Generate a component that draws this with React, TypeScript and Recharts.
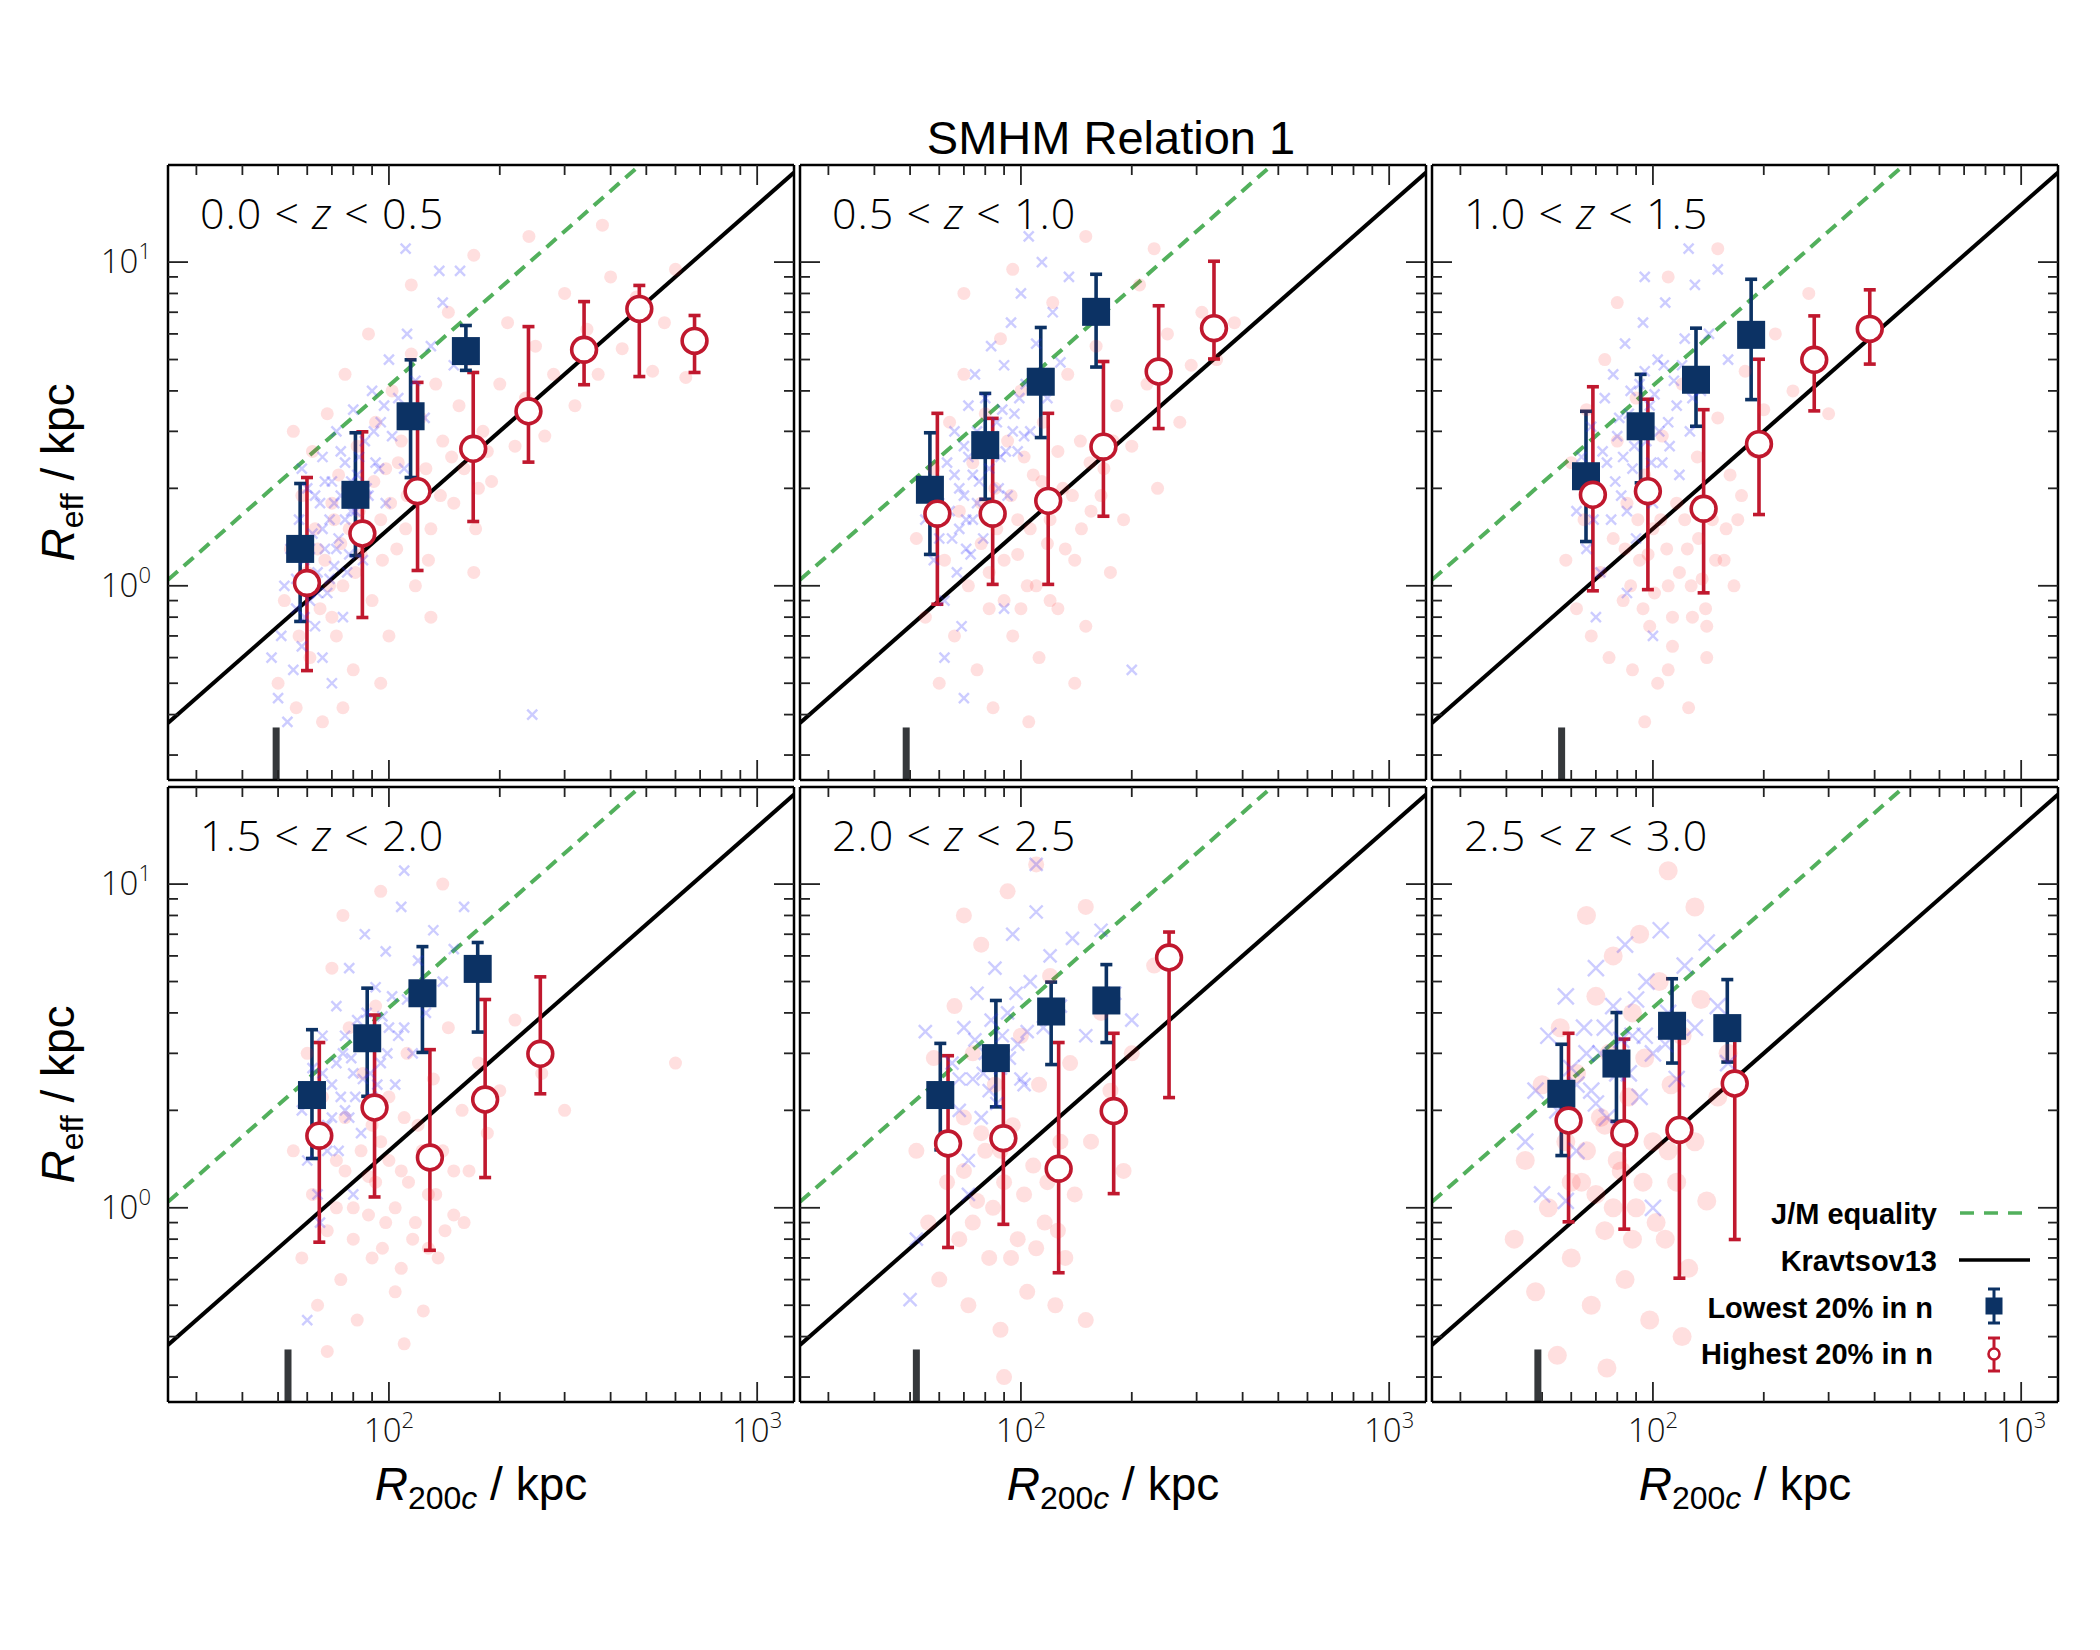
import React from 'react'
import { ComposedChart, Scatter, Line, XAxis, YAxis, ErrorBar, ReferenceLine } from 'recharts'

const NAVY = '#0c3264'
const CRIMSON = '#c0182e'
const GREEN = '#52b05c'
const LIGHT = "'Open Sans', 'Noto Sans', sans-serif"
const SANS = "'Liberation Sans', Arial, sans-serif"
const NARROW = "'Liberation Sans Narrow', 'Liberation Sans', Arial, sans-serif"

// axis ranges (log10: 1.4 .. 3.1 and -0.6 .. 1.3)
const X_MIN = 25.12
const X_MAX = 1259
const Y_MIN = 0.2512
const Y_MAX = 19.95

const xTicks = [30, 40, 50, 60, 70, 80, 90, 100, 200, 300, 400, 500, 600, 700, 800, 900, 1000]
const yTicks = [0.3, 0.4, 0.5, 0.6, 0.7, 0.8, 0.9, 1, 2, 3, 4, 5, 6, 7, 8, 9, 10]

const zLow = ['0.0', '0.5', '1.0', '1.5', '2.0', '2.5']
const zHigh = ['0.5', '1.0', '1.5', '2.0', '2.5', '3.0']

// reference relations, read at the panel edges
const kravX = [25.12, 1259]
const kravY = [0.377, 18.9]
const jmX = [25.12, 480]
const jmY = [1.043, 19.92]

// resolution marker at the bottom of each panel
const resX = [49.4, 48.8, 56.5, 53.2, 52.0, 48.7]
const resTop = 0.365

// Lowest 20% in n (binned medians with error bars)
const lowX = [
  [57.4, 81.1, 114.5, 161.8],
  [56.6, 80.0, 113.2, 160.0],
  [65.8, 92.6, 130.9, 184.8],
  [61.8, 87.3, 123.3, 174.2],
  [60.4, 85.5, 120.8, 170.6],
  [56.4, 79.6, 112.7, 159.2],
]
const lowY = [
  [1.30, 1.91, 3.34, 5.31],
  [1.98, 2.72, 4.27, 7.02],
  [2.18, 3.11, 4.33, 5.96],
  [2.23, 3.34, 4.60, 5.47],
  [2.23, 2.90, 4.04, 4.37],
  [2.25, 2.79, 3.65, 3.59],
]
const lowLo = [
  [0.776, 1.24, 2.16, 4.63],
  [1.25, 1.85, 2.87, 4.74],
  [1.37, 2.08, 3.11, 3.76],
  [1.42, 2.21, 3.02, 3.49],
  [1.51, 2.05, 2.77, 3.24],
  [1.45, 1.85, 2.80, 2.82],
]
const lowHi = [
  [2.07, 2.97, 4.99, 6.37],
  [2.97, 3.93, 6.28, 9.17],
  [3.46, 4.50, 6.25, 8.85],
  [3.55, 4.77, 6.41, 6.60],
  [3.22, 4.37, 4.98, 5.64],
  [3.20, 4.01, 5.10, 5.07],
]

// Highest 20% in n
const highX = [
  [59.9, 84.7, 119.6, 169.4, 239.3, 338.8, 478.6, 676],
  [59.3, 83.8, 118.6, 167.5, 236.6, 334.4],
  [68.7, 96.9, 137.3, 194.1, 274.2, 388],
  [64.7, 91.4, 129.2, 182.5, 257.7],
  [63.4, 89.6, 126.6, 178.6, 252.5],
  [59.0, 83.6, 118.0, 166.8],
]
const highY = [
  [1.02, 1.45, 1.96, 2.65, 3.46, 5.36, 7.17, 5.71],
  [1.67, 1.67, 1.83, 2.69, 4.59, 6.25],
  [1.91, 1.96, 1.73, 2.74, 4.99, 6.22],
  [1.67, 2.04, 1.43, 2.16, 2.99],
  [1.58, 1.64, 1.32, 1.99, 5.93],
  [1.86, 1.70, 1.74, 2.42],
]
const highLo = [
  [0.547, 0.798, 1.115, 1.58, 2.41, 4.18, 4.43, 4.56],
  [0.877, 1.01, 1.01, 1.64, 3.06, 5.02],
  [0.965, 0.973, 0.951, 1.66, 3.47, 4.84],
  [0.783, 1.08, 0.739, 1.24, 2.25],
  [0.754, 0.889, 0.63, 1.106, 2.19],
  [0.905, 0.859, 0.606, 0.798],
]
const highHi = [
  [2.16, 2.99, 4.25, 4.56, 6.32, 7.55, 8.47, 6.84],
  [3.41, 3.29, 3.41, 4.93, 7.33, 10.06],
  [4.12, 3.77, 3.50, 5.01, 6.82, 8.21],
  [3.24, 3.94, 3.08, 4.40, 5.17],
  [2.95, 3.06, 3.24, 3.46, 7.11],
  [3.46, 3.32, 3.61, 3.87],
]

// individual galaxies (faint background cloud)
const blueCloud: [number, number][][] = [
  [[50, 0.45], [51, 0.7], [52, 1.0], [53, 0.38], [54, 1.3], [55, 0.55], [56, 0.85], [57, 1.6], [58, 0.65], [59, 1.2],
   [60, 2.0], [61, 0.9], [62, 1.45], [63, 0.75], [64, 1.1], [65, 1.8], [66, 2.5], [67, 1.3], [68, 0.95], [69, 1.6],
   [70, 2.1], [71, 1.15], [72, 3.0], [73, 1.4], [74, 1.9], [75, 0.8], [76, 2.4], [78, 1.25], [79, 1.7], [80, 3.5],
   [82, 2.2], [84, 1.5], [86, 2.8], [88, 1.9], [90, 4.0], [92, 2.4], [95, 3.2], [98, 1.8], [100, 5.0], [102, 2.9],
   [106, 3.8], [110, 2.3], [112, 6.0], [118, 4.3], [125, 3.3], [130, 5.5], [140, 7.5], [150, 4.8], [111, 11], [137, 9.4],
   [156, 9.4], [245, 0.40], [48, 0.6], [58, 2.3], [66, 0.6], [85, 1.2], [70, 0.5],
   [61, 1.3], [63, 1.9], [64, 0.95], [66, 1.5], [67, 2.1], [69, 1.05], [71, 1.8], [72, 1.3], [74, 2.6], [76, 1.6],
   [77, 1.1], [79, 2.1], [81, 1.7], [83, 2.5], [87, 2.0], [91, 3.0], [94, 2.3], [97, 3.6], [56, 1.05], [59, 0.8]],
  [[58, 1.2], [60, 1.8], [62, 0.9], [63, 2.4], [65, 1.4], [66, 3.0], [67, 1.1], [68, 2.0], [69, 0.75], [70, 2.7],
   [71, 1.6], [72, 3.6], [73, 1.25], [74, 2.2], [75, 4.5], [76, 1.8], [78, 2.9], [79, 1.4], [80, 3.8], [82, 2.3],
   [83, 5.5], [84, 1.6], [86, 3.2], [88, 2.5], [90, 4.8], [92, 1.9], [94, 6.5], [96, 3.4], [98, 2.6], [100, 8.0],
   [103, 4.2], [106, 3.0], [110, 5.6], [114, 10], [118, 3.8], [122, 7.0], [128, 4.9], [135, 9.0], [62, 0.6], [90, 0.85],
   [200, 0.55], [70, 0.45], [55, 1.6], [105, 12],
   [64, 1.7], [66, 2.2], [68, 1.5], [70, 1.9], [72, 2.5], [74, 1.6], [76, 3.0], [77, 2.1], [80, 2.6], [81, 1.7],
   [84, 2.9], [87, 2.0], [89, 3.5], [91, 2.6], [95, 3.0], [99, 3.8], [102, 2.9], [108, 4.4], [60, 1.4], [71, 1.3]],
  [[62, 1.7], [64, 2.5], [66, 1.3], [68, 3.1], [70, 2.0], [72, 1.1], [74, 3.8], [75, 2.4], [77, 1.6], [78, 4.5],
   [80, 2.9], [82, 1.9], [84, 5.6], [86, 3.4], [88, 2.3], [90, 1.4], [92, 4.2], [94, 6.5], [96, 2.8], [98, 3.6],
   [100, 1.8], [103, 5.0], [106, 2.4], [108, 7.5], [110, 3.2], [114, 4.3], [118, 2.2], [122, 5.8], [126, 3.0], [130, 8.5],
   [135, 4.0], [142, 6.0], [150, 9.5], [160, 5.0], [70, 0.8], [85, 0.95], [100, 0.7], [125, 11], [95, 9.0],
   [79, 2.1], [81, 3.3], [83, 2.5], [85, 1.7], [87, 4.0], [89, 2.7], [91, 3.3], [93, 2.0], [95, 4.6], [97, 3.1],
   [99, 2.4], [101, 3.9], [104, 3.0], [107, 4.8], [111, 2.7], [116, 3.6], [120, 4.8], [73, 2.6], [69, 1.6], [128, 3.8]],
  [[58, 2.0], [60, 1.4], [62, 2.7], [64, 1.1], [66, 3.4], [68, 1.8], [70, 2.4], [72, 4.2], [73, 1.5], [75, 3.0],
   [76, 2.0], [78, 5.5], [80, 2.6], [82, 3.8], [84, 1.7], [86, 7.0], [88, 3.2], [90, 2.2], [92, 4.8], [95, 2.8],
   [98, 6.2], [100, 3.6], [104, 2.4], [108, 8.5], [112, 4.4], [116, 3.0], [120, 5.8], [126, 4.0], [132, 7.2], [140, 5.0],
   [150, 6.3], [160, 8.5], [65, 0.9], [80, 1.1], [110, 11], [60, 0.45],
   [70, 1.9], [72, 2.8], [74, 2.2], [76, 3.4], [78, 1.9], [79, 2.9], [81, 2.2], [83, 3.3], [85, 2.5], [87, 4.0],
   [89, 2.6], [91, 3.5], [93, 2.4], [96, 3.9], [99, 3.0], [102, 4.5], [106, 3.4], [66, 2.6], [68, 1.5], [110, 3.6]],
  [[52, 0.8], [50, 0.52], [55, 3.5], [58, 2.2], [62, 1.6], [65, 2.8], [68, 2.0], [70, 3.6], [72, 1.4], [74, 2.5],
   [76, 4.6], [78, 1.9], [80, 3.0], [82, 2.3], [85, 5.5], [88, 2.7], [90, 1.7], [92, 4.0], [95, 7.0], [98, 3.2],
   [102, 2.4], [106, 5.0], [110, 8.2], [115, 3.6], [120, 6.0], [128, 4.2], [138, 6.8], [150, 3.4], [165, 7.2], [180, 4.6],
   [200, 3.8], [110, 11.5], [72, 1.1],
   [75, 3.3], [79, 2.6], [83, 3.8], [86, 2.1], [89, 3.4], [93, 2.9], [97, 4.6], [100, 2.5], [104, 3.5], [68, 2.5]],
  [[45, 1.6], [48, 2.3], [50, 1.1], [52, 3.4], [55, 2.0], [58, 4.5], [60, 2.7], [62, 1.5], [65, 3.6], [68, 2.3],
   [70, 5.5], [72, 3.0], [75, 1.9], [78, 4.2], [80, 2.6], [84, 6.5], [88, 3.4], [92, 2.2], [96, 5.0], [100, 3.0],
   [105, 7.2], [110, 4.0], [116, 2.5], [122, 5.6], [130, 3.6], [140, 6.6], [150, 4.2], [160, 2.8], [58, 1.05], [100, 1.0],
   [62, 2.4], [66, 3.0], [70, 2.1], [74, 3.6], [78, 2.8], [82, 3.3], [86, 2.6], [90, 4.4], [95, 3.4], [108, 3.2]],
]

const redCloud: [number, number][][] = [
  [[50, 0.5], [52, 0.9], [54, 1.3], [56, 0.42], [57, 0.7], [58, 1.9], [60, 1.1], [61, 0.6], [62, 2.6], [63, 1.5],
   [65, 0.85], [66, 0.38], [67, 1.2], [68, 3.4], [70, 1.8], [72, 0.7], [73, 2.2], [75, 1.0], [76, 4.5], [78, 1.5],
   [80, 0.55], [82, 2.7], [84, 1.25], [86, 1.9], [88, 6.0], [90, 0.9], [92, 3.2], [95, 1.6], [98, 2.3], [100, 0.7],
   [102, 4.0], [105, 1.3], [108, 2.8], [112, 1.9], [115, 5.2], [118, 1.0], [122, 3.3], [126, 2.3], [130, 1.5], [134, 4.2],
   [140, 2.8], [145, 7.0], [150, 1.8], [155, 3.6], [160, 2.3], [165, 5.0], [172, 1.5], [180, 3.0], [190, 2.1], [200, 4.2],
   [210, 6.5], [220, 2.7], [235, 3.8], [250, 5.5], [265, 2.9], [280, 4.5], [300, 8.0], [320, 3.6], [345, 6.2], [370, 4.5],
   [400, 9.0], [430, 5.4], [470, 7.8], [520, 4.6], [560, 6.5], [600, 9.5], [640, 4.4], [95, 0.5], [130, 0.8], [170, 1.1],
   [75, 0.42], [115, 8.5], [170, 10.5], [240, 12], [380, 13], [55, 3.0],
   [64, 1.3], [69, 1.0], [71, 1.6], [74, 1.35], [77, 2.0], [81, 1.1], [83, 1.7], [87, 1.4], [91, 2.1], [96, 1.2],
   [101, 1.8], [106, 2.4], [111, 1.5], [120, 2.0], [128, 1.2], [138, 1.9], [148, 2.5], [175, 2.0], [185, 2.6], [70, 0.8]],
  [[52, 1.4], [55, 0.8], [58, 2.3], [60, 0.5], [62, 1.2], [64, 3.2], [66, 0.7], [68, 1.7], [70, 4.5], [72, 1.0],
   [74, 2.4], [76, 0.55], [78, 1.35], [80, 3.4], [82, 0.85], [85, 2.0], [88, 5.8], [90, 1.2], [92, 2.8], [95, 0.7],
   [98, 1.6], [100, 4.0], [104, 1.0], [108, 2.2], [112, 0.6], [115, 3.2], [118, 1.35], [122, 7.5], [126, 0.85], [130, 2.0],
   [134, 4.5], [140, 1.2], [145, 2.8], [150, 0.75], [155, 1.7], [160, 5.5], [168, 2.3], [175, 1.1], [182, 3.6], [190, 1.6],
   [200, 2.7], [210, 8.5], [220, 4.2], [235, 2.0], [250, 6.0], [270, 3.2], [290, 4.8], [310, 7.0], [340, 5.0], [380, 6.5],
   [84, 0.42], [105, 0.38], [140, 0.5], [230, 11], [150, 12], [70, 8], [95, 9.5],
   [78, 1.8], [82, 1.1], [86, 1.5], [90, 0.9], [94, 1.9], [98, 1.25], [102, 2.5], [106, 1.5], [110, 1.0], [114, 2.1],
   [120, 1.6], [126, 2.6], [132, 1.3], [138, 1.9], [146, 1.5], [154, 2.4], [165, 1.9], [178, 2.8], [120, 0.9], [100, 0.85]],
  [[58, 1.2], [60, 2.4], [62, 0.85], [65, 1.6], [66, 3.5], [68, 0.7], [70, 2.0], [72, 1.1], [74, 5.0], [76, 0.6],
   [78, 1.4], [80, 2.8], [83, 0.9], [85, 1.8], [88, 0.55], [90, 3.8], [92, 1.2], [95, 2.2], [98, 0.75], [100, 1.5],
   [103, 0.5], [106, 2.9], [110, 1.0], [113, 0.65], [116, 1.8], [120, 4.2], [124, 1.3], [128, 0.8], [132, 2.5], [136, 1.05],
   [140, 0.6], [145, 1.6], [150, 3.3], [156, 1.2], [162, 2.2], [170, 1.6], [178, 4.6], [188, 2.6], [200, 3.5], [215, 6.0],
   [240, 4.0], [265, 8.0], [300, 3.4], [80, 7.5], [110, 9.0], [150, 11], [125, 0.42], [95, 0.38],
   [84, 1.3], [87, 1.0], [91, 1.6], [94, 0.85], [97, 1.25], [101, 0.95], [105, 1.6], [109, 1.3], [113, 0.8], [118, 1.1],
   [122, 1.6], [127, 1.0], [133, 1.4], [139, 0.85], [148, 1.2], [158, 1.5], [166, 1.0], [174, 1.9], [110, 0.55], [140, 0.75]],
  [[55, 1.5], [58, 0.7], [60, 3.0], [62, 1.1], [64, 0.5], [66, 2.2], [68, 0.85], [70, 5.5], [72, 1.4], [74, 0.6],
   [76, 1.9], [78, 3.6], [80, 1.0], [82, 0.45], [85, 2.6], [88, 1.25], [90, 0.7], [92, 4.2], [95, 1.6], [98, 0.9],
   [100, 2.2], [104, 0.55], [108, 1.3], [112, 3.0], [116, 0.8], [120, 1.8], [124, 0.48], [128, 1.1], [132, 2.5], [136, 0.7],
   [140, 1.5], [145, 3.6], [150, 0.95], [158, 2.0], [165, 1.3], [175, 2.8], [185, 1.7], [200, 2.3], [220, 3.8], [260, 2.6],
   [300, 2.0], [600, 2.8], [75, 8.0], [95, 9.5], [140, 10], [68, 0.36], [110, 0.38],
   [72, 1.0], [76, 1.3], [80, 0.8], [84, 1.5], [88, 0.95], [92, 1.2], [96, 0.75], [100, 1.4], [104, 1.0], [108, 0.65],
   [113, 1.2], [118, 0.9], [123, 1.5], [128, 0.75], [134, 1.1], [142, 0.85], [150, 1.3], [160, 0.9], [110, 1.9], [90, 1.8]],
  [[52, 1.5], [56, 0.9], [58, 2.9], [60, 0.6], [63, 1.2], [66, 4.2], [68, 0.8], [70, 1.9], [72, 0.5], [74, 3.0],
   [76, 1.05], [78, 6.5], [80, 1.5], [82, 0.7], [85, 2.4], [88, 0.42], [90, 1.2], [92, 9.5], [95, 1.8], [98, 0.8],
   [100, 3.4], [104, 0.55], [108, 1.35], [112, 2.4], [116, 0.9], [120, 5.2], [124, 0.5], [128, 1.6], [132, 0.7], [136, 2.8],
   [140, 1.1], [150, 0.45], [155, 1.6], [165, 4.0], [175, 2.3], [190, 1.3], [200, 3.0], [230, 5.6], [70, 8.0], [110, 11.5],
   [150, 8.5], [90, 0.3],
   [70, 1.3], [74, 0.9], [78, 1.7], [84, 1.0], [88, 1.5], [94, 0.7], [102, 1.1], [110, 0.75], [118, 1.2], [126, 0.85]],
  [[42, 0.8], [45, 1.4], [48, 0.55], [50, 2.4], [52, 1.0], [55, 0.35], [56, 3.6], [58, 1.6], [60, 0.7], [62, 2.6],
   [64, 1.2], [66, 8.0], [68, 0.5], [70, 4.5], [72, 1.9], [74, 0.85], [76, 3.0], [78, 6.0], [80, 1.4], [84, 0.6],
   [86, 2.2], [88, 4.0], [90, 1.0], [92, 7.0], [95, 2.9], [98, 0.45], [100, 1.6], [104, 5.0], [108, 0.8], [112, 2.4],
   [116, 1.2], [120, 3.4], [125, 0.65], [130, 1.6], [135, 4.4], [140, 1.05], [150, 2.2], [160, 3.0], [110, 11], [130, 8.5],
   [75, 0.32], [120, 0.4],
   [66, 1.5], [70, 1.1], [74, 1.8], [78, 1.0], [82, 1.3], [88, 0.8], [94, 1.2], [102, 0.9], [110, 1.5], [60, 1.2]],
]

// marker sizes of the cloud grow with redshift (fewer galaxies)
const cloudR = [6.5, 6.5, 6.5, 6.5, 8, 9.5]
const crossS = [5, 5, 5, 5, 6.5, 8]

const W = 626
const H = 615
const PAD = 80
const COL_LEFT = [168, 800, 1432]
const ROW_TOP = [165, 787]

const isMajor = (v: number) => Math.abs(Math.log10(v) - Math.round(Math.log10(v))) < 1e-6

const makeTick = (side: string, labels: boolean) => (p: any) => {
  const { x, y, payload } = p
  const v = payload.value
  const len = isMajor(v) ? 20 : 10
  let line = null
  if (side === 'bottom') line = <line x1={x} y1={y} x2={x} y2={y - len} />
  if (side === 'top') line = <line x1={x} y1={y} x2={x} y2={y + len} />
  if (side === 'left') line = <line x1={x} y1={y} x2={x + len} y2={y} />
  if (side === 'right') line = <line x1={x} y1={y} x2={x - len} y2={y} />
  const exp = Math.round(Math.log10(v))
  let label = null
  if (labels && isMajor(v)) {
    const common = { fontFamily: LIGHT, fontWeight: 300, fontSize: 33, fill: '#111', stroke: 'none' }
    label =
      side === 'bottom' ? (
        <text x={x} y={y + 40} textAnchor="middle" {...common}>
          10<tspan fontSize={22} dy={-14}>{exp}</tspan>
        </text>
      ) : (
        <text x={x - 17} y={y + 11} textAnchor="end" {...common}>
          10<tspan fontSize={22} dy={-14}>{exp}</tspan>
        </text>
      )
  }
  return (
    <g stroke="#222" strokeWidth={1.8}>
      {line}
      {label}
    </g>
  )
}

const frame = { stroke: '#000', strokeWidth: 2.5 }

const Panel = ({ i }: { i: number }) => {
  const col = i % 3
  const row = Math.floor(i / 3)
  const red = redCloud[i].map(([x, y]) => ({ x, y }))
  const blue = blueCloud[i].map(([x, y]) => ({ x, y }))
  const lows = lowX[i].map((x, k) => ({ x, y: lowY[i][k], err: [lowY[i][k] - lowLo[i][k], lowHi[i][k] - lowY[i][k]] }))
  const highs = highX[i].map((x, k) => ({ x, y: highY[i][k], err: [highY[i][k] - highLo[i][k], highHi[i][k] - highY[i][k]] }))
  const krav = kravX.map((x, k) => ({ x, y: kravY[k] }))
  const jm = jmX.map((x, k) => ({ x, y: jmY[k] }))
  const r = cloudR[i]
  const s = crossS[i]
  const axisCommon = {
    type: 'number' as const,
    allowDataOverflow: true,
    interval: 0 as const,
    tickSize: 0,
    tickMargin: 0,
    tickLine: false,
    axisLine: frame,
  }
  // axes are 1px thick, so the margins are one pixel smaller than PAD
  const m = PAD - 1
  return (
    <div style={{ position: 'absolute', left: COL_LEFT[col] - PAD, top: ROW_TOP[row] - PAD }}>
      <ComposedChart width={W + 2 * PAD} height={H + 2 * PAD} margin={{ top: m, right: m, bottom: m, left: m }}>
        <XAxis {...axisCommon} dataKey="x" scale="log" domain={[X_MIN, X_MAX]} ticks={xTicks} height={1} tick={makeTick('bottom', row === 1)} />
        <XAxis {...axisCommon} xAxisId="top" orientation="top" dataKey="x" scale="log" domain={[X_MIN, X_MAX]} ticks={xTicks} height={1} tick={makeTick('top', false)} />
        <YAxis {...axisCommon} dataKey="y" scale="log" domain={[Y_MIN, Y_MAX]} ticks={yTicks} width={1} tick={makeTick('left', col === 0)} />
        <YAxis {...axisCommon} yAxisId="right" orientation="right" dataKey="y" scale="log" domain={[Y_MIN, Y_MAX]} ticks={yTicks} width={1} tick={makeTick('right', false)} />

        <Scatter data={red} isAnimationActive={false} shape={(p: any) => <circle cx={p.cx} cy={p.cy} r={r} fill="#ff2a2a" fillOpacity={0.15} />} />
        <Scatter
          data={blue}
          isAnimationActive={false}
          shape={(p: any) => (
            <path
              d={`M${p.cx - s},${p.cy - s}L${p.cx + s},${p.cy + s}M${p.cx - s},${p.cy + s}L${p.cx + s},${p.cy - s}`}
              stroke="#2a2aff"
              strokeOpacity={0.24}
              strokeWidth={2.4}
            />
          )}
        />

        <Line data={jm} dataKey="y" type="linear" dot={false} stroke={GREEN} strokeWidth={4} strokeDasharray="13 8" isAnimationActive={false} />
        <Line data={krav} dataKey="y" type="linear" dot={false} stroke="#000" strokeWidth={4} isAnimationActive={false} />

        <ReferenceLine segment={[{ x: resX[i], y: Y_MIN }, { x: resX[i], y: resTop }]} stroke="#35383b" strokeWidth={7} ifOverflow="visible" />

        <Scatter data={highs} isAnimationActive={false} shape={() => <g />}>
          <ErrorBar dataKey="err" direction="y" width={6} strokeWidth={3.6} stroke={CRIMSON} />
        </Scatter>
        <Scatter
          data={lows}
          isAnimationActive={false}
          shape={(p: any) => <rect x={p.cx - 14} y={p.cy - 14} width={28} height={28} fill={NAVY} />}
        >
          <ErrorBar dataKey="err" direction="y" width={6} strokeWidth={3.6} stroke={NAVY} />
        </Scatter>
        <Scatter
          data={highs}
          isAnimationActive={false}
          shape={(p: any) => <circle cx={p.cx} cy={p.cy} r={12.4} fill="#fff" stroke={CRIMSON} strokeWidth={3.6} />}
        />
      </ComposedChart>
    </div>
  )
}

const App = () => {
  const panels = [0, 1, 2, 3, 4, 5]
  return (
    <div style={{ position: 'absolute', left: 0, top: 0, width: 2100, height: 1650, background: '#fff', overflow: 'hidden' }}>
      {panels.map((i) => (
        <Panel key={i} i={i} />
      ))}
      <svg width={2100} height={1650} style={{ position: 'absolute', left: 0, top: 0, pointerEvents: 'none' }}>
        <text x={1111} y={154} textAnchor="middle" fontFamily={SANS} fontSize={47} fill="#000">
          SMHM Relation 1
        </text>

        {panels.map((i) => (
          <text
            key={i}
            x={COL_LEFT[i % 3] + 32}
            y={ROW_TOP[Math.floor(i / 3)] + 64}
            fontFamily={LIGHT}
            fontWeight={300}
            fontSize={43}
            letterSpacing={1}
            fill="#000"
          >
            {zLow[i] + ' < '}
            <tspan fontStyle="italic">z</tspan>
            {' < ' + zHigh[i]}
          </text>
        ))}

        {ROW_TOP.map((t) => (
          <text key={t} transform={`translate(74, ${t + H / 2}) rotate(-90)`} textAnchor="middle" fontFamily={SANS} fontSize={46} fill="#000">
            <tspan fontStyle="italic">R</tspan>
            <tspan fontSize={32} dy={9}>eff</tspan>
            <tspan dy={-9}> / kpc</tspan>
          </text>
        ))}

        {COL_LEFT.map((l) => (
          <text key={l} x={l + W / 2} y={1500} textAnchor="middle" fontFamily={SANS} fontSize={46} fill="#000">
            <tspan fontStyle="italic">R</tspan>
            <tspan fontSize={32} dy={9}>200</tspan>
            <tspan fontSize={32} fontStyle="italic">c</tspan>
            <tspan dy={-9}> / kpc</tspan>
          </text>
        ))}

        {/* legend */}
        <g fontFamily={NARROW} fontWeight="bold" fontSize={29} fill="#000" textAnchor="end">
          <text x={1937} y={1224}>J/M equality</text>
          <text x={1937} y={1271}>Kravtsov13</text>
          <text x={1933} y={1318}>Lowest 20% in n</text>
          <text x={1933} y={1364}>Highest 20% in n</text>
        </g>
        <line x1={1960} y1={1213} x2={2026} y2={1213} stroke={GREEN} strokeWidth={3.6} strokeDasharray="14 10" />
        <line x1={1959} y1={1260} x2={2030} y2={1260} stroke="#000" strokeWidth={3.6} />
        <g stroke={NAVY} strokeWidth={3}>
          <line x1={1994} y1={1289} x2={1994} y2={1323} />
          <line x1={1988} y1={1289} x2={2000} y2={1289} />
          <line x1={1988} y1={1323} x2={2000} y2={1323} />
        </g>
        <rect x={1985.5} y={1297.5} width={17} height={17} fill={NAVY} />
        <g stroke={CRIMSON} strokeWidth={3}>
          <line x1={1994} y1={1338} x2={1994} y2={1371} />
          <line x1={1988} y1={1338} x2={2000} y2={1338} />
          <line x1={1988} y1={1371} x2={2000} y2={1371} />
        </g>
        <circle cx={1994} cy={1354} r={5.5} fill="#fff" stroke={CRIMSON} strokeWidth={2.6} />
      </svg>
    </div>
  )
}

export default App
